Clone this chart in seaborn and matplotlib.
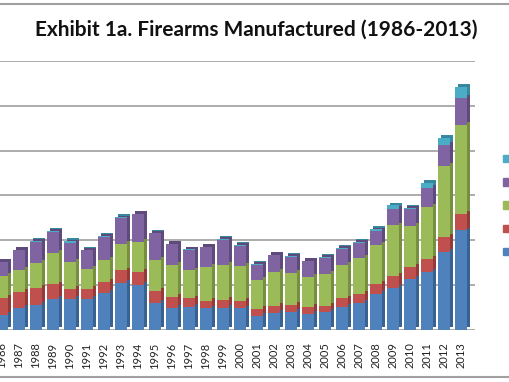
import numpy as np
import pandas as pd
import matplotlib
matplotlib.use("Agg")
import matplotlib.pyplot as plt
from matplotlib.patches import Patch
from matplotlib.lines import Line2D
import seaborn as sns

# ---- data (firearms manufactured, units) ----
years = [str(y) for y in range(1986, 2014)]
pistols = [662973, 964561, 1101011, 1404753, 1371427, 1378252, 1669537, 2093362,
           2004298, 1195284, 987528, 1036077, 960365, 995446, 962901, 626836,
           741514, 811660, 728511, 803425, 1021260, 1219664, 1609381, 1868258,
           2258450, 2598133, 3487883, 4441726]
revolvers = [761414, 722512, 754744, 628573, 470495, 456966, 469413, 562292,
             586450, 527664, 498944, 370428, 324390, 335784, 318960, 320143,
             347070, 309364, 294099, 274205, 385069, 391334, 431753, 547195,
             558927, 572857, 667357, 725282]
rifles = [970507, 1007661, 1144707, 1407400, 1211664, 883482, 1001833, 1173694,
          1316607, 1411120, 1424315, 1251341, 1535690, 1569685, 1583042, 1284554,
          1515286, 1430324, 1325138, 1431372, 1496505, 1610923, 1734536, 2248851,
          1830556, 2318088, 3168206, 3979570]
shotguns = [641482, 857949, 928070, 935541, 848948, 828426, 1018204, 1144940,
            1254926, 1173645, 925732, 915978, 868639, 1106995, 898442, 679813,
            741325, 726078, 731769, 709313, 714618, 645231, 630710, 752699,
            743378, 862401, 949010, 1203072]
misc = [4558, 6980, 35345, 42126, 57434, 15980, 16849, 81349, 10936, 8629,
        17920, 19680, 24506, 39837, 30196, 21309, 21700, 30978, 19508, 23179,
        35872, 55461, 92564, 138815, 67929, 190407, 306154, 495142]
series_names = ["Pistols", "Revolvers", "Rifles", "Shotguns", "Misc. Firearms"]
title = "Exhibit 1a. Firearms Manufactured (1986-2013)"

front_colors = ["#4F81BD", "#C0504D", "#9BBB59", "#8064A2", "#4BACC6"]
side_colors = ["#3A6291", "#923B39", "#76903F", "#5F4A7C", "#37889E"]

series = [pistols, revolvers, rifles, shotguns, misc]
df = pd.DataFrame({"Year": years})
for name, vals in zip(series_names, series):
    df[name] = vals
cum = df[series_names].cumsum(axis=1)
bottoms = cum.shift(1, axis=1).fillna(0)

sns.set_style("white")
plt.rcParams["font.family"] = ["Lato", "DejaVu Sans"]

fig = plt.figure(figsize=(5.1, 3.82), dpi=100)
ax = fig.add_axes([-6.5 / 510, 52 / 382, 482 / 510, 269 / 382])

n = len(years)
xpos = np.arange(n)
bw = 0.66
dx = 0.18
dy = 0.13e6

# 3D-ish side faces (shadow copies behind the fronts)
for i, name in enumerate(series_names):
    ax.bar(xpos + dx, df[name], bottom=bottoms[name] + dy, width=bw,
           color=side_colors[i], linewidth=0, zorder=2)

# front faces with seaborn, drawn as cumulative layers (largest first)
for i in reversed(range(len(series_names))):
    name = series_names[i]
    sns.barplot(x=df["Year"], y=cum[name], color=front_colors[i], width=bw,
                saturation=1, ax=ax, zorder=3, linewidth=0, errorbar=None)

ax.set_xlim(-0.5, 27.85)
ax.set_ylim(0, 12e6)
ax.set_yticks(np.arange(0, 12e6 + 1, 2e6))
ax.set_yticklabels([])
ax.yaxis.grid(True, color="#a6a6a6", linewidth=1.3, zorder=0)
ax.set_axisbelow(True)
ax.set_xlabel("")
ax.set_ylabel("")
for s in ax.spines.values():
    s.set_visible(False)
ax.tick_params(axis="x", length=0, pad=9, labelsize=8, labelrotation=90,
               labelcolor="#222222")
ax.tick_params(axis="y", length=0)

fig.text(0.502, 1 - 30 / 382, title, ha="center", va="center",
         fontsize=15, fontweight="bold", color="#111111")

# chart frame lines
fig.add_artist(Line2D([0, 1], [1 - 4 / 382] * 2, transform=fig.transFigure,
                      color="#a0a0a0", linewidth=1.5))
fig.add_artist(Line2D([0, 1], [1 - 377 / 382] * 2, transform=fig.transFigure,
                      color="#a0a0a0", linewidth=1.5))

handles = [Patch(color=c) for c in front_colors][::-1]
labels = series_names[::-1]
fig.legend(handles, labels, loc="upper left",
           bbox_to_anchor=(503 / 510, 1 - 153 / 382), frameon=False,
           handlelength=0.55, handleheight=0.55, handletextpad=0.6,
           labelspacing=0.9, fontsize=9, borderpad=0, borderaxespad=0)

fig.savefig("out.png", dpi=100)
